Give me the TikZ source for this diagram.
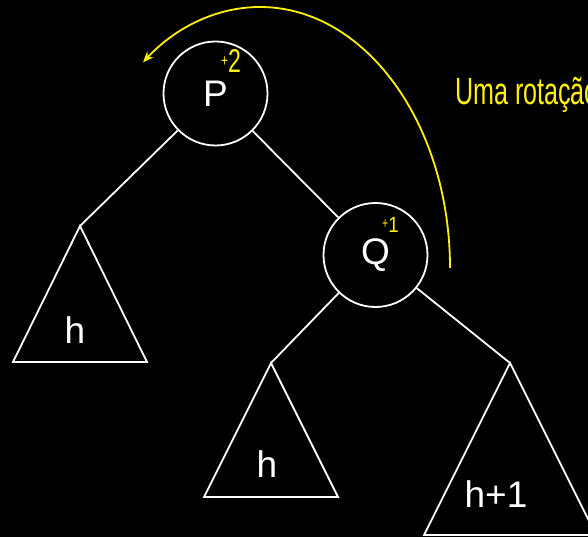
\documentclass[tikz,border=0pt]{standalone}
\usepackage{fontspec}
\setmainfont{Liberation Sans}
\usetikzlibrary{positioning}
\usetikzlibrary{arrows.meta}

\begin{document}
\begin{tikzpicture}[x=1pt, y=-1pt,
	avl/.style={circle, draw=white, line width=1.8pt, minimum size=104pt, inner sep=0pt, text=white, font=\fontsize{37}{37}\selectfont},
	sub/.style={draw=white, line width=1.8pt},
	lbl/.style={text=white, anchor=base, inner sep=0pt, font=\fontsize{37}{37}\selectfont},
	bal/.style={text=yellow, anchor=base west, inner sep=0pt},
	rot/.style={draw=yellow, line width=1.8pt, -{Stealth[length=11pt, width=9pt, inset=4pt]}}
	]
	\fill[black] (0,0) rectangle (588,537);
	\useasboundingbox (0,0) rectangle (588,537);
	\clip (0,0) rectangle (588,537);
				\node[avl] (P) at (215.5,93.5) {P};
				\node[avl] (Q) at (375.5,255) {Q};
				\node[shape=coordinate] (tl) at ( 80,226) {};
				\node[shape=coordinate] (tm) at (271,363) {};
				\node[shape=coordinate] (tr) at (510,363) {};
				\node[lbl] (hl) at ( 75,343) {h};
				\node[lbl] (hm) at (267,477) {h};
				\node[lbl] (hr) at (496,507) {h+1};
				\node[bal] (bP) at (221,73) {\raisebox{6pt}{\scalebox{0.7}[1]{\fontsize{17}{17}\selectfont+}}\scalebox{0.7}[1]{\fontsize{33}{33}\selectfont 2}};
				\node[bal] (bQ) at (382,232) {\raisebox{3.5pt}{\scalebox{0.7}[1]{\fontsize{15}{15}\selectfont+}}\scalebox{0.85}[1]{\fontsize{22}{22}\selectfont 1}};
				\node[bal, font=\fontsize{38}{38}\selectfont] (msg) at (455,105) {\scalebox{0.66}[1]{Uma rotação}};
				\coordinate (rs) at (450,268);
				\begin{scope}[line join=miter]
					\draw[sub] (P) -- (tl);
					\draw[sub] (P) -- (Q);
					\draw[sub] (Q) -- (tm);
					\draw[sub] (Q) -- (tr);
					\draw[sub] (tl) -- ++(-67,136) -- ++(134,0) -- cycle;
					\draw[sub] (tm) -- ++(-67,134) -- ++(134,0) -- cycle;
					\draw[sub] (tr) -- ++(-86,172) -- ++(172,0) -- cycle;
					\draw[rot] (rs) arc[start angle=0, end angle=-128, x radius=190, y radius=261];
				\end{scope}
\end{tikzpicture}
\end{document}
